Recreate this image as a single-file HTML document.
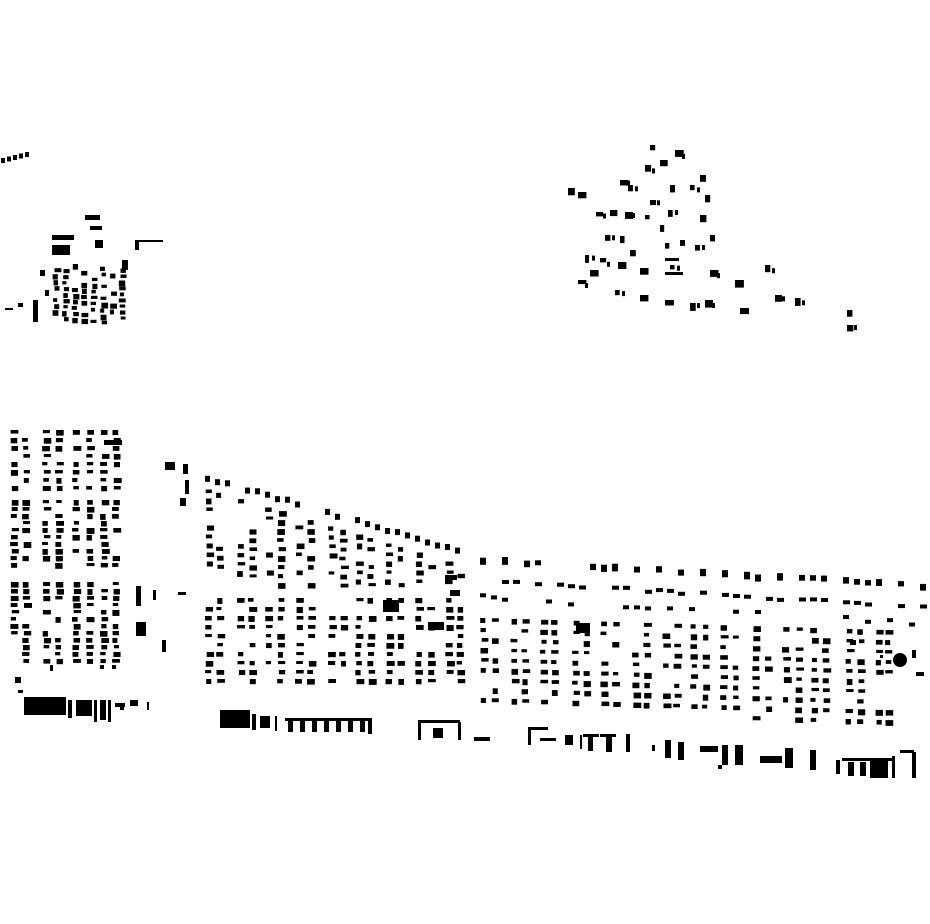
<!DOCTYPE html><html><head><style>body{margin:0;background:#fff}svg{display:block}</style></head><body>
<svg id="s" width="930" height="924" xmlns="http://www.w3.org/2000/svg"><rect width="930" height="924" fill="#fff"/><g id="g" fill="#000"></g><circle cx="900" cy="660" r="7" fill="#000"/></svg>
<script>
var seed=7;function r(){seed=(seed*16807)%2147483647;return seed/2147483647;}
var h='';function R(x,y,w,hh){h+='<rect x="'+x.toFixed(1)+'" y="'+y.toFixed(1)+'" width="'+w.toFixed(1)+'" height="'+hh.toFixed(1)+'"/>';}
function col(x,y0,y1,sp,p,w){for(var y=y0;y<y1;y+=sp){if(r()<p){var ww=(w||5)+r()*3;R(x+r()*2,y,ww,3+r()*3);}}}
// left block
var lc=[10,22,42,55,72,86,100,112];
lc.forEach(function(x){col(x,430,490,8,0.8);col(x,500,570,7,0.8);col(x,582,665,7,0.85);});
R(104,440,18,5);R(136,586,5,20);R(136,622,10,14);R(153,590,3,10);R(178,592,8,3);R(162,640,4,12);
R(50,665,3,6);R(100,665,4,4);R(112,665,4,4);R(15,677,6,6);
// middle block
var mc=[205,216,237,248,265,277,295,307,328,339,355,367,385,397,415,427,445,456];
mc.forEach(function(x){var t=478+(x-200)*0.3;col(x,t+10,Math.min(t+95,585),9,0.7);col(x,598,688,9,0.75);});
for(var x=205;x<465;x+=10){var t=472+(x-200)*0.29;if(r()<0.7)R(x,t+r()*3,5,6);}
R(165,462,10,8);R(183,464,5,10);R(185,480,4,14);R(180,498,6,8);R(383,600,16,12);R(445,575,12,5);R(450,590,10,6);
// right strips
for(var x=480;x<930;x+=11){var t=555+(x-478)*0.06;if(r()<0.6)R(x,t+r()*3,6,5+r()*3);if(r()<0.65)R(x,t+22+r()*3,7,4);if(r()<0.45)R(x,t+38+r()*4,6,4);}
// right columns
var rc=[480,491,510,521,540,551,572,583,600,612,632,643,662,673,690,702,720,732,752,765,782,795,810,822,845,857,875,885];
rc.forEach(function(x){var t=618+(x-480)*0.03,b=700+(x-480)*0.06;col(x,t,b,10,0.75);});
R(428,622,16,8);R(576,623,14,10);R(850,640,6,5);R(880,655,3,3);R(912,650,4,8);R(916,672,8,4);
// bottom strip
R(24,697,42,18);R(68,700,4,18);R(76,700,16,16);R(94,700,3,22);R(100,700,6,20);R(108,700,3,22);R(115,703,10,4);R(120,706,4,4);R(130,700,8,6);R(147,702,2,8);R(18,690,5,3);
R(220,710,30,18);R(252,714,4,16);R(260,716,10,12);R(275,716,2,15);R(285,718,85,3);
for(var x=288;x<370;x+=12)R(x,720,5,12);R(368,718,4,16);
R(418,720,42,3);R(418,720,3,20);R(433,728,10,10);R(458,722,3,18);R(474,737,16,4);
R(528,727,20,3);R(528,727,3,18);R(540,738,16,3);R(565,735,8,10);R(580,735,2,14);R(583,734,16,3);R(588,737,5,14);R(600,734,16,3);R(606,737,6,15);R(626,734,4,18);
R(652,745,3,6);R(665,740,6,18);R(678,742,6,18);R(700,746,18,6);R(722,745,6,20);R(735,745,8,20);R(718,765,4,4);R(760,756,22,7);R(785,748,8,20);R(810,750,6,20);
R(836,760,4,14);R(842,758,50,3);R(848,762,6,14);R(860,762,6,14);R(870,760,18,18);R(892,756,3,22);R(900,750,14,3);R(912,752,4,26);
// top left cluster
for(var i=0;i<5;i++)R(1+i*6,158-i*1.5,4,5);
for(var x=52;x<120;x+=9){col(x+(x-40)*0.05,262+(x-50)*0.1,322,6,0.75,4);}
R(33,300,5,22);R(52,235,22,5);R(52,245,18,10);R(85,215,15,5);R(90,226,12,4);R(95,240,8,8);R(135,240,28,2);R(135,240,4,10);R(122,260,6,10);R(5,308,8,2);R(18,303,5,4);R(40,270,5,6);R(45,290,4,6);
// top right cluster
var pts=[[568,188],[578,192],[596,212],[610,210],[625,212],[620,180],[628,185],[645,165],[660,160],[650,145],[675,150],[670,185],[690,185],[700,175],[705,195],[700,215],[668,210],[645,215],[660,225],[665,243],[680,240],[695,245],[605,235],[620,236],[585,255],[600,258],[618,262],[640,268],[670,265],[710,270],[735,280],[765,265],[578,280],[590,270],[615,290],[640,295],[665,300],[690,303],[705,300],[740,308],[775,295],[795,298],[847,310],[847,325],[650,200],[710,235],[630,250]];
pts.forEach(function(p){R(p[0],p[1],4+r()*5,4+r()*4);if(r()<0.4)R(p[0]+7,p[1]+r()*4,3,5);});
R(665,258,14,3);R(665,272,18,3);
document.getElementById('g').innerHTML=h;
</script>
</body></html>
